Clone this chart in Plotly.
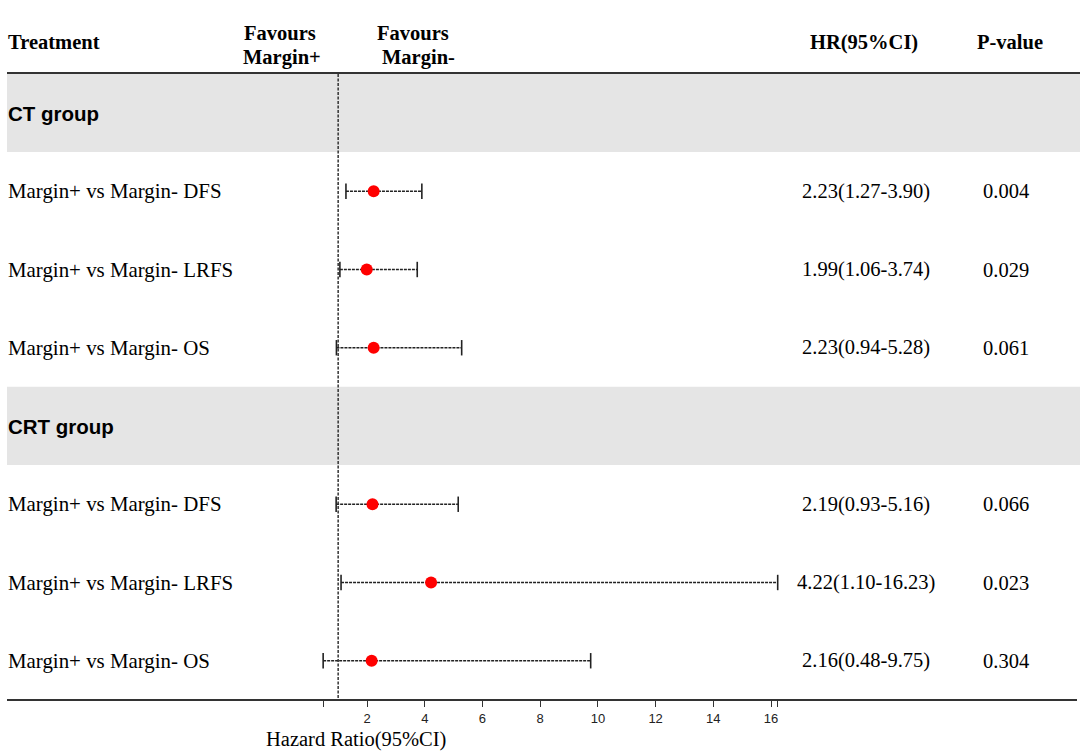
import plotly.graph_objects as go

# ---------------- data ----------------
row_labels = ["CT group", "Margin+ vs Margin- DFS", "Margin+ vs Margin- LRFS", "Margin+ vs Margin- OS",
              "CRT group", "Margin+ vs Margin- DFS", "Margin+ vs Margin- LRFS", "Margin+ vs Margin- OS"]
is_group = [True, False, False, False, True, False, False, False]
hr = [None, 2.23, 1.99, 2.23, None, 2.19, 4.22, 2.16]
ci_low = [None, 1.27, 1.06, 0.94, None, 0.93, 1.10, 0.48]
ci_high = [None, 3.90, 3.74, 5.28, None, 5.16, 16.23, 9.75]
hr_text = ["", "2.23(1.27-3.90)", "1.99(1.06-3.74)", "2.23(0.94-5.28)",
           "", "2.19(0.93-5.16)", "4.22(1.10-16.23)", "2.16(0.48-9.75)"]
p_text = ["", "0.004", "0.029", "0.061", "", "0.066", "0.023", "0.304"]
tick_vals = [0.48, 2, 4, 6, 8, 10, 12, 14, 16, 16.23]
tick_text = ["", "2", "4", "6", "8", "10", "12", "14", "16", ""]
ref_value = 1
x_title = "Hazard Ratio(95%CI)"

# ---------------- layout geometry ----------------
W, H = 1080, 755
ROW0, PITCH = 113.0, 78.25           # pixel centre of first row, row pitch
X0, XU = 309.3, 28.86                # pixel of HR=0, pixels per unit
AX_L, AX_R, AX_Y = 7, 1077, 700

def xp(px):
    return px / W

def yp(py):
    return 1 - py / H

SERIF = "Liberation Serif, Times New Roman, serif"
SANS = "Liberation Sans, Arial, sans-serif"
FS = 20.5

n = len(row_labels)
ys = list(range(n))

fig = go.Figure()

# CI lines (dashed)
lx, ly = [], []
for i in ys:
    if hr[i] is not None:
        lx += [ci_low[i], ci_high[i], None]
        ly += [i, i, None]
fig.add_trace(go.Scatter(x=lx, y=ly, mode="lines",
                         line=dict(color="#222222", width=1.5, dash="3px,1px"),
                         hoverinfo="skip", showlegend=False))
# caps
cx, cy = [], []
for i in ys:
    if hr[i] is not None:
        cx += [ci_low[i], ci_high[i]]
        cy += [i, i]
fig.add_trace(go.Scatter(x=cx, y=cy, mode="markers",
                         marker=dict(symbol="line-ns", size=11,
                                     line=dict(color="#222222", width=1.6)),
                         hoverinfo="skip", showlegend=False))
# reference line
fig.add_trace(go.Scatter(x=[ref_value, ref_value], y=[-0.5, n - 0.5], mode="lines",
                         line=dict(color="#333333", width=1.5, dash="3px,1.5px"),
                         hoverinfo="skip", showlegend=False))
# points
px_, py_ = [], []
for i in ys:
    if hr[i] is not None:
        px_.append(hr[i]); py_.append(i)
fig.add_trace(go.Scatter(x=px_, y=py_, mode="markers",
                         marker=dict(color="#ff0000", size=12, symbol="circle"),
                         showlegend=False))

shapes = []
annotations = []
for i in ys:
    if is_group[i]:
        shapes.append(dict(type="rect", xref="paper", yref="y", x0=xp(AX_L), x1=1.0,
                           y0=i - 0.5, y1=i + 0.5, fillcolor="#e5e5e5",
                           line=dict(width=0), layer="below"))
        annotations.append(dict(xref="paper", yref="y", x=xp(6), y=i, text=f"<b>{row_labels[i]}</b>",
                                showarrow=False, xanchor="left", yanchor="middle",
                                font=dict(family=SANS, size=FS, color="#000000")))
    else:
        annotations.append(dict(xref="paper", yref="y", x=xp(6), y=i, text=row_labels[i],
                                showarrow=False, xanchor="left", yanchor="middle",
                                font=dict(family=SERIF, size=20.9, color="#000000")))
        annotations.append(dict(xref="paper", yref="y", x=xp(866), y=i, text=hr_text[i],
                                showarrow=False, xanchor="center", yanchor="middle",
                                font=dict(family=SERIF, size=FS, color="#000000")))
        annotations.append(dict(xref="paper", yref="y", x=xp(1006), y=i, text=p_text[i],
                                showarrow=False, xanchor="center", yanchor="middle",
                                font=dict(family=SERIF, size=FS, color="#000000")))

# header line
shapes.append(dict(type="line", xref="paper", yref="paper", x0=xp(AX_L), x1=1.0,
                   y0=yp(73), y1=yp(73), line=dict(color="#333333", width=2)))

hdr_font = dict(family=SERIF, size=FS, color="#000000")

def hdr(x, y, text, anchor="center"):
    return dict(xref="paper", yref="paper", x=xp(x), y=yp(y), text=f"<b>{text}</b>",
                showarrow=False, xanchor=anchor, yanchor="middle", font=hdr_font)

annotations += [
    hdr(6, 42, "Treatment", "left"),
    hdr(280, 33, "Favours"),
    hdr(282, 57, "Margin+"),
    hdr(413, 33, "Favours"),
    hdr(418, 57, "Margin-"),
    hdr(864, 42, "HR(95%CI)"),
    hdr(1010, 42, "P-value"),
    dict(xref="paper", yref="paper", x=xp(355.5), y=yp(739), text=x_title,
         showarrow=False, xanchor="center", yanchor="middle", font=hdr_font),
]

x_range = [(AX_L - X0) / XU, (AX_R - X0) / XU]
y_range = [(H - ROW0) / PITCH, -ROW0 / PITCH]

fig.update_layout(
    width=W, height=H,
    margin=dict(l=0, r=0, t=0, b=0),
    paper_bgcolor="white", plot_bgcolor="white",
    shapes=shapes, annotations=annotations,
    xaxis=dict(domain=[xp(AX_L), xp(AX_R)], range=x_range, anchor="free",
               position=(H - AX_Y) / H, showgrid=False, zeroline=False,
               showline=True, linecolor="#333333", linewidth=2,
               ticks="outside", ticklen=6, tickwidth=1.3, tickcolor="#333333",
               tickvals=tick_vals, ticktext=tick_text,
               tickfont=dict(family=SANS, size=13, color="#222222")),
    yaxis=dict(domain=[0, 1], range=y_range, visible=False, showgrid=False, zeroline=False),
    showlegend=False,
)

fig.write_html("out.html", config={"displayModeBar": False},
               post_script="document.body.style.margin='0';document.body.style.overflow='hidden';")
